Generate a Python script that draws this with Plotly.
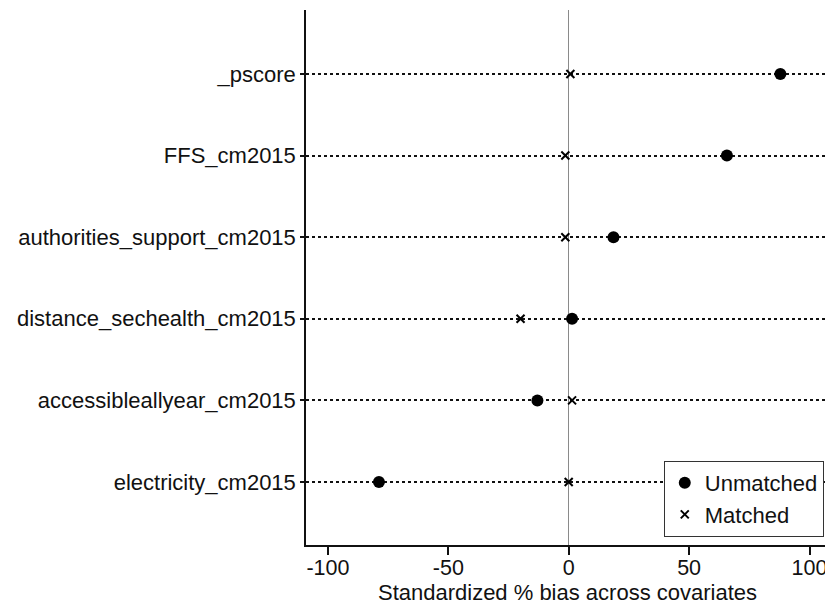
import plotly.graph_objects as go

covariates = ["_pscore", "FFS_cm2015", "authorities_support_cm2015",
              "distance_sechealth_cm2015", "accessibleallyear_cm2015", "electricity_cm2015"]
unmatched = [87.9, 65.7, 18.6, 1.4, -13.0, -78.8]
matched = [0.7, -1.4, -1.4, -20.0, 1.4, 0.0]
x_ticks = [-100, -50, 0, 50, 100]
x_tick_labels = ["-100", "-50", "0", "50", "100"]

n = len(covariates)
ypos = [n - i for i in range(n)]

fig = go.Figure()
fig.add_trace(go.Scatter(
    x=unmatched, y=ypos, mode="markers", name="Unmatched",
    marker=dict(symbol="circle", size=12, color="black"),
))
fig.add_trace(go.Scatter(
    x=matched, y=ypos, mode="markers", name="Matched",
    marker=dict(symbol="x-thin", size=8, color="black",
                line=dict(width=2, color="black")),
))

# page body adds an 8px offset, so the figure is 8px smaller than the window
fig.update_layout(
    width=825, height=597,
    margin=dict(l=298, r=4, t=2, b=60),
    plot_bgcolor="white", paper_bgcolor="white",
    font=dict(family="Liberation Sans, Arial, sans-serif", size=22, color="#111111"),
    legend=dict(
        x=0.990, y=0.015, xanchor="right", yanchor="bottom",
        bordercolor="#333333", borderwidth=1, bgcolor="white",
        font=dict(size=22), tracegroupgap=0,
    ),
    showlegend=True,
)
fig.update_xaxes(
    range=[-109.1, 108.1], tickvals=x_ticks, ticktext=x_tick_labels,
    ticks="outside", ticklen=8, tickwidth=1.5, ticklabelstandoff=-6,
    tickcolor="#111111", showline=True, linecolor="#111111", linewidth=1.5,
    tickfont=dict(size=21.5),
    showgrid=False, zeroline=True, zerolinecolor="#8a8a8a", zerolinewidth=1.2,
    title=dict(text="Standardized % bias across covariates", font=dict(size=22), standoff=9),
)
fig.update_yaxes(
    range=[0.228, 6.784], tickvals=ypos, ticktext=covariates, ticks="outside",
    ticklen=4, tickwidth=1.5, tickcolor="#111111", showline=True, linecolor="#111111",
    linewidth=1.5, showgrid=True, gridcolor="#111111", griddash="dot", gridwidth=1.6,
    zeroline=False,
)
fig.write_html("out.html")
